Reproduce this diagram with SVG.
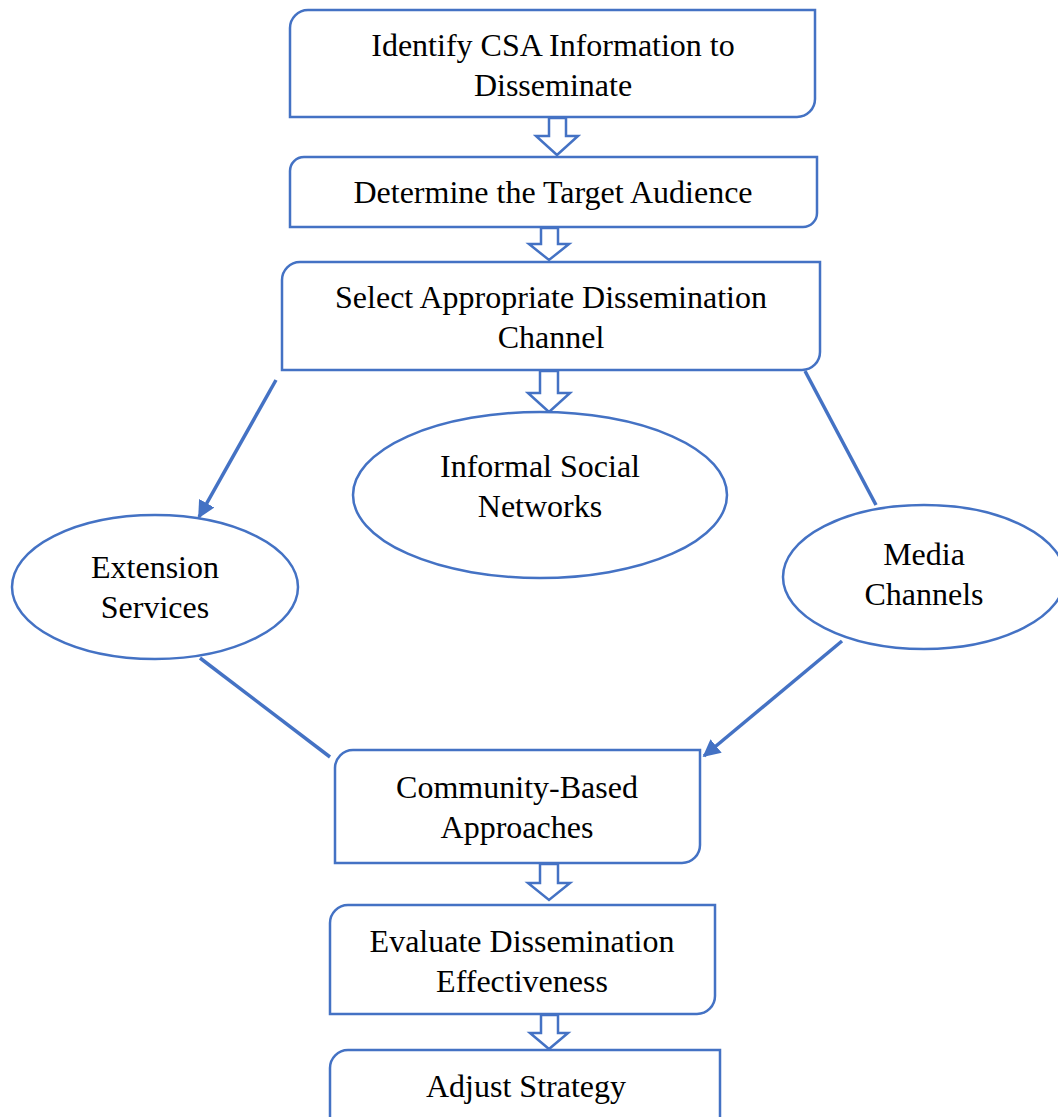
<svg xmlns="http://www.w3.org/2000/svg" width="1058" height="1117" viewBox="0 0 1058 1117">
  <style>
    .box { fill: #ffffff; stroke: #4472C4; stroke-width: 2.5; }
    .blk { fill: #ffffff; stroke: #4472C4; stroke-width: 2.5; stroke-linejoin: miter; }
    .ln { fill: none; stroke: #4472C4; stroke-width: 3.5; }
    text { font-family: "Liberation Serif", "Times New Roman", serif; font-size: 32px; fill: #000000; text-anchor: middle; }
  </style>
  <defs>
    <marker id="head" viewBox="0 0 10 10" refX="9" refY="5" markerWidth="5" markerHeight="5" orient="auto" markerUnits="strokeWidth">
      <path d="M0,0 L10,5 L0,10 z" fill="#4472C4"/>
    </marker>
  </defs>
  <rect width="1058" height="1117" fill="#ffffff"/>

  <g id="connectors">
    <!-- block arrows between stacked steps -->
    <polygon class="blk" points="549,118 566,118 566,136 578,136 557,155 536,136 549,136"/>
    <polygon class="blk" points="541,228 558,228 558,244 569,244 549,260 529,244 541,244"/>
    <polygon class="blk" points="540,371 558,371 558,393 570,393 549,412 528,393 540,393"/>
    <polygon class="blk" points="540,864 558,864 558,883 570,883 549,900 528,883 540,883"/>
    <polygon class="blk" points="541,1015 558,1015 558,1033 568,1033 549,1049 530,1033 541,1033"/>
    <!-- branch lines -->
    <line class="ln" x1="276" y1="380" x2="199" y2="517" marker-end="url(#head)"/>
    <line class="ln" x1="805" y1="371" x2="876" y2="505"/>
    <line class="ln" x1="200" y1="658" x2="330" y2="757"/>
    <line class="ln" x1="842" y1="641" x2="704" y2="756" marker-end="url(#head)"/>
  </g>

  <g id="identify">
    <path class="box" d="M308,10 H815 V99 A18,18 0 0 1 797,117 H290 V28 A18,18 0 0 1 308,10 Z"/>
    <text x="553" y="56">Identify CSA Information to</text>
    <text x="553" y="96">Disseminate</text>
  </g>

  <g id="audience">
    <path class="box" d="M304,157 H817 V213 A14,14 0 0 1 803,227 H290 V171 A14,14 0 0 1 304,157 Z"/>
    <text x="553" y="203">Determine the Target Audience</text>
  </g>

  <g id="channel">
    <path class="box" d="M300,262 H820 V352 A18,18 0 0 1 802,370 H282 V280 A18,18 0 0 1 300,262 Z"/>
    <text x="551" y="308">Select Appropriate Dissemination</text>
    <text x="551" y="348">Channel</text>
  </g>

  <g id="informal">
    <ellipse class="box" cx="540" cy="495" rx="187" ry="83"/>
    <text x="540" y="477">Informal Social</text>
    <text x="540" y="517">Networks</text>
  </g>

  <g id="extension">
    <ellipse class="box" cx="155" cy="587" rx="143" ry="72"/>
    <text x="155" y="578">Extension</text>
    <text x="155" y="618">Services</text>
  </g>

  <g id="media">
    <ellipse class="box" cx="924" cy="577" rx="141" ry="72"/>
    <text x="924" y="565">Media</text>
    <text x="924" y="605">Channels</text>
  </g>

  <g id="community">
    <path class="box" d="M353,750 H700 V845 A18,18 0 0 1 682,863 H335 V768 A18,18 0 0 1 353,750 Z"/>
    <text x="517" y="798">Community-Based</text>
    <text x="517" y="838">Approaches</text>
  </g>

  <g id="evaluate">
    <path class="box" d="M348,905 H715 V996 A18,18 0 0 1 697,1014 H330 V923 A18,18 0 0 1 348,905 Z"/>
    <text x="522" y="952">Evaluate Dissemination</text>
    <text x="522" y="992">Effectiveness</text>
  </g>

  <g id="adjust">
    <path class="box" d="M348,1050 H720 V1130 H330 V1068 A18,18 0 0 1 348,1050 Z"/>
    <text x="526" y="1097">Adjust Strategy</text>
  </g>
</svg>
